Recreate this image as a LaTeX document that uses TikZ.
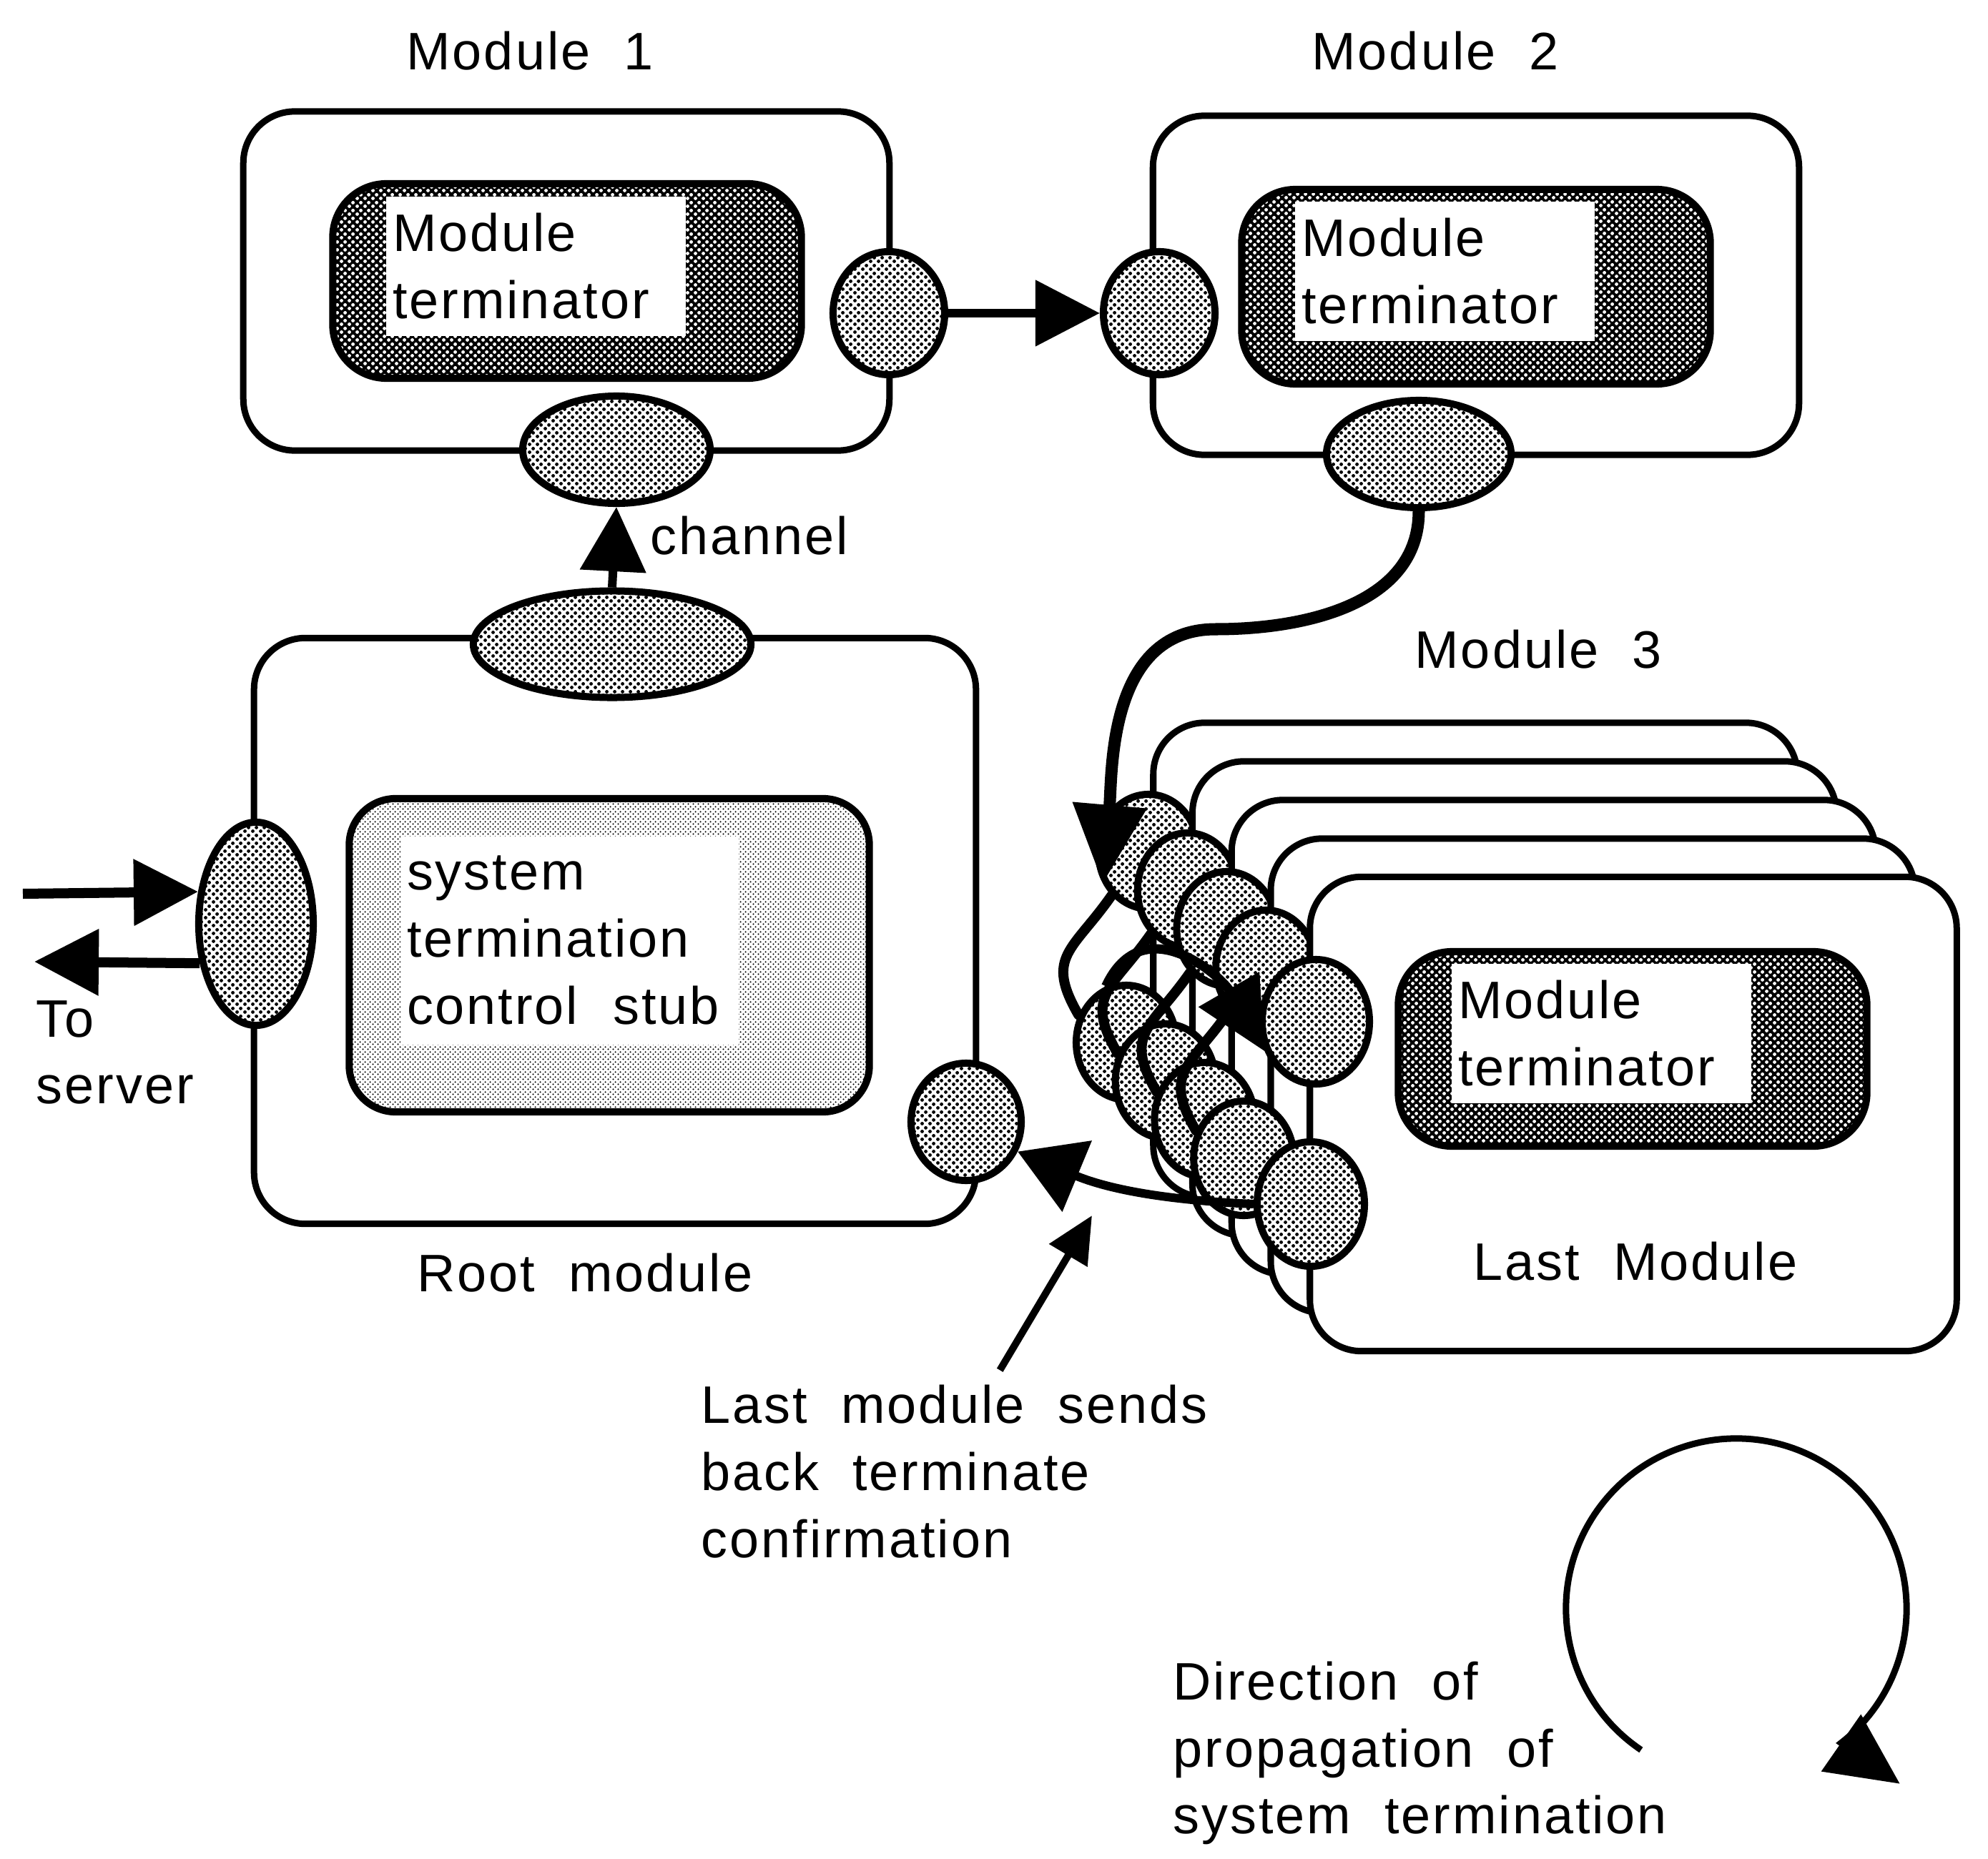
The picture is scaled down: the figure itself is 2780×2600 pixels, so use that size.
\documentclass[tikz,border=0pt]{standalone}
\usepackage{fontspec}
\setmainfont{Liberation Sans}[LetterSpace=4]
\usetikzlibrary{arrows.meta,shapes.geometric,patterns}

% halftone screens
\pgfdeclarepatternformonly{halftone}{\pgfpointorigin}{\pgfpoint{3pt}{3pt}}{\pgfpoint{3pt}{3pt}}{%
  \pgfpathcircle{\pgfpoint{0.75pt}{0.75pt}}{0.72pt}%
  \pgfpathcircle{\pgfpoint{2.25pt}{2.25pt}}{0.72pt}%
  \pgfusepath{fill}}
\pgfdeclarepatternformonly{finedots}{\pgfpointorigin}{\pgfpoint{2pt}{2pt}}{\pgfpoint{2pt}{2pt}}{%
  \pgfpathcircle{\pgfpoint{0.5pt}{0.5pt}}{0.38pt}%
  \pgfpathcircle{\pgfpoint{1.5pt}{1.5pt}}{0.38pt}%
  \pgfusepath{fill}}

\begin{document}
\begin{tikzpicture}[x=0.01cm, y=0.01cm,
  lbl/.style={font=\fontsize{21}{26.7}\selectfont, inner sep=0pt},
  modbox/.style={
    draw, line width=0.09cm, rounded corners=0.72cm, fill=white,
    minimum width=9.03cm, minimum height=4.74cm, inner sep=0pt
  },
  stackbox/.style={modbox, minimum width=9.0cm, minimum height=6.63cm},
  port/.style={
    ellipse, draw, line width=0.1cm, preaction={fill=white},
    pattern=halftone, inner sep=0pt
  },
  termbox/.style={
    draw, line width=0.1cm, rounded corners=0.75cm,
    preaction={fill=black}, pattern=halftone, pattern color=white,
    minimum width=6.55cm, minimum height=2.72cm, inner sep=0pt
  },
  stubbox/.style={
    draw, line width=0.1cm, rounded corners=0.65cm,
    preaction={fill=white}, pattern=finedots,
    minimum width=7.27cm, minimum height=4.38cm, inner sep=0pt
  },
  termtxt/.style={
    lbl, fill=white, align=left, anchor=north west,
    text width=4.01cm, inner xsep=0.09cm, minimum height=1.95cm
  },
  arr/.style={-{Triangle[length=0.9cm,width=0.9cm]}, line width=0.12cm},
  thk/.style={line width=0.14cm, line cap=round},
]
\path[use as bounding box, fill=white] (0,0) rectangle (2780,-2600);

%% Module 1
\node[lbl] (m1Title) at (741,-71) {Module~~1};
\node[modbox] (m1) at (792,-393) {};
\node[termbox] (m1Term) at (793,-393) {};
\node[termtxt] (m1Txt) at ([xshift=0.79cm,yshift=-0.22cm]m1Term.north west) {Module\\terminator};
\node[port, minimum width=1.56cm, minimum height=1.72cm] (m1Out) at (1243,-438) {};
\node[port, minimum width=2.62cm, minimum height=1.5cm] (m1In) at (862,-629) {};

%% Module 2
\node[lbl] (m2Title) at (2007,-71) {Module~~2};
\node[modbox] (m2) at (2064,-399) {};
\node[termbox] (m2Term) at (2064,-401) {};
\node[termtxt] (m2Txt) at ([xshift=0.79cm,yshift=-0.21cm]m2Term.north west) {Module\\terminator};
\node[port, minimum width=1.56cm, minimum height=1.72cm] (m2In) at (1621,-438) {};
\node[port, minimum width=2.58cm, minimum height=1.5cm] (m2Out) at (1984,-635) {};

%% Root module
\node[modbox, minimum width=10.09cm, minimum height=8.19cm] (root) at (860,-1302) {};
\node[stubbox] (stub) at (852,-1336) {};
\node[termtxt, text width=4.55cm, minimum height=2.91cm] (stubTxt)
  at ([xshift=0.76cm,yshift=-0.57cm]stub.north west) {system\\termination\\control~~stub};
\node[port, minimum width=3.88cm, minimum height=1.49cm] (rootTop) at (856,-901) {};
\node[port, minimum width=1.6cm, minimum height=2.84cm] (rootSrv) at (358,-1292) {};
\node[port, minimum width=1.54cm, minimum height=1.64cm] (rootRet) at (1351,-1569) {};
\node[lbl] (rootLbl) at (818,-1780) {Root~~module};
\node[lbl, align=left, anchor=west] (srvLbl) at (50,-1472) {To\\server};

%% Module 3 (stacked copies)
\node[lbl] (m3Title) at (2151,-908) {Module~~3};
\foreach \i in {0,...,3}{
  \node[stackbox] (s\i) at ({2063+54.75*\i},{-1342.5-54*\i}) {};
  \node[port, minimum width=1.4cm, minimum height=1.6cm] (u\i) at ({1606+54.75*\i},{-1191-54*\i}) {};
  \node[port, minimum width=1.4cm, minimum height=1.6cm] (l\i) at ({1575+54.75*\i},{-1458-54*\i}) {};
}
\node[stackbox, minimum width=9.04cm] (last) at (2284,-1558) {};
\node[termbox] (lastTerm) at (2283,-1467) {};
\node[termtxt] (lastTxt) at ([xshift=0.79cm,yshift=-0.21cm]lastTerm.north west) {Module\\terminator};
\node[port, minimum width=1.5cm, minimum height=1.74cm] (u4) at (1840,-1429) {};
\node[port, minimum width=1.5cm, minimum height=1.74cm] (l4) at (1833,-1684) {};
\node[lbl] (lastLbl) at (2287,-1764) {Last~~Module};

%% ── Arrows ──

% Module 1 -> Module 2
\draw[arr] (m1Out.east) -- (m2In.west);

% Root -> Module 1
\draw[arr] (rootTop.north) -- (m1In.south)
  node[lbl, pos=0.645, anchor=west, xshift=0.44cm] {channel};

% to / from server
\coordinate (srvIn) at (32,-1250);
\coordinate (srvOut) at (48,-1345);
\draw[arr, line width=0.14cm] (srvIn) -- (rootSrv.151);
\draw[arr, line width=0.14cm] (rootSrv.215) -- (srvOut);

% Module 2 -> Module 3
\coordinate (bendA) at (1700,-880);
\draw[arr, line width=0.17cm, -{Triangle[length=1.1cm,width=1.0cm]}]
  (m2Out.south) to[out=-90,in=0] (bendA) to[out=180,in=85] (u0.215);

% propagation through the copies
\foreach \i in {0,...,3}
  \draw[thk] (u\i.230) to[out=235,in=120,looseness=1.4] (l\i.150);
\draw[arr, line width=0.13cm, -{Triangle[length=1.0cm,width=0.95cm]}]
  (l0.110) to[out=65,in=120,looseness=1.3] (u4.210);

% Last module -> Root
\draw[arr, -{Triangle[length=0.9cm,width=1.05cm]}] (l4.west) to[bend left=10] (rootRet.-30);

% note
\node[lbl, align=left, anchor=west] (note) at (980,-2058)
  {Last~~module~~sends\\back~~terminate\\confirmation};
\coordinate (noteTip) at (1527,-1700);
\draw[-{Triangle[length=0.65cm,width=0.6cm]}, line width=0.1cm]
  ([xshift=4.18cm,yshift=0.2cm]note.north west) -- (noteTip);

% direction symbol
\node[lbl, align=left, anchor=west] (dirLbl) at (1640,-2452)
  {Direction~~of\\propagation~~of\\system~~termination};
\coordinate (rotC) at (2428,-2250);
\draw[-{Triangle[length=1.0cm,width=0.95cm]}, line width=0.09cm]
  (rotC) ++(236:2.38cm) arc[start angle=236, end angle=-52, radius=2.38cm] -- ++(0.82cm,-0.57cm);

\end{tikzpicture}
\end{document}
